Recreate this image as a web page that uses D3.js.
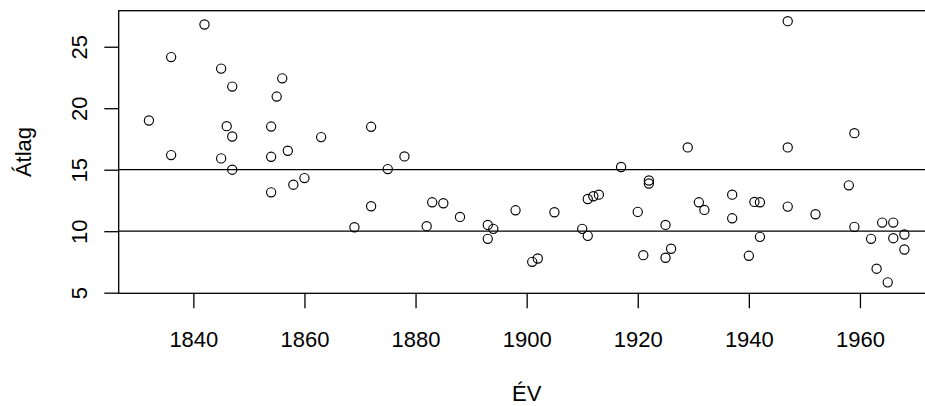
<!DOCTYPE html>
<html>
<head>
<meta charset="utf-8">
<script src="https://cdn.jsdelivr.net/npm/d3@7"></script>
<style>
  html, body { margin: 0; padding: 0; background: #fff; }
  svg { display: block; }
  text { font-family: "Liberation Sans", Arial, Helvetica, sans-serif; fill: #000; }
</style>
</head>
<body>
<svg id="chart" width="925" height="406"></svg>
<script>
// ---- data ----
const years = [1832, 1836, 1836, 1842, 1845, 1845, 1846, 1847, 1847, 1847,
  1854, 1854, 1854, 1855, 1856, 1857, 1858, 1860, 1863, 1869,
  1872, 1872, 1875, 1878, 1882, 1883, 1885, 1888, 1893, 1893,
  1894, 1898, 1901, 1902, 1905, 1910, 1911, 1911, 1912, 1913,
  1917, 1920, 1921, 1922, 1922, 1925, 1925, 1926, 1929, 1931,
  1932, 1937, 1937, 1940, 1941, 1942, 1942, 1947, 1947, 1947,
  1952, 1958, 1959, 1959, 1962, 1963, 1964, 1965, 1966, 1966,
  1968, 1968];
const values = [19.0, 24.16, 16.19, 26.81, 23.22, 15.92, 18.54, 21.76, 17.7, 15.0,
  18.51, 16.05, 13.16, 20.95, 22.43, 16.54, 13.78, 14.32, 17.65, 10.32,
  18.49, 12.03, 15.05, 16.08, 10.41, 12.35, 12.27, 11.16, 10.51, 9.38,
  10.19, 11.7, 7.51, 7.78, 11.54, 10.19, 9.62, 12.62, 12.84, 12.97,
  15.22, 11.57, 8.05, 14.12, 13.88, 10.51, 7.84, 8.57, 16.81, 12.35,
  11.73, 12.97, 11.05, 8.0, 12.38, 12.35, 9.54, 27.08, 16.81, 12.0,
  11.38, 13.73, 17.97, 10.35, 9.38, 6.95, 10.7, 5.84, 10.7, 9.43,
  9.73, 8.51];
const xTicks = [1840, 1860, 1880, 1900, 1920, 1940, 1960];
const yTicks = [5, 10, 15, 20, 25];
const refLines = [10, 15];
const xTitle = "ÉV";
const yTitle = "Átlag";

// ---- layout ----
const svg = d3.select("#chart");
const pLeft = 118.7, pRight = 934.6, pTop = 10.7, pBottom = 293.3;
const FS = 22;

const x = d3.scaleLinear().domain([1826.56, 1973.44]).range([pLeft, pRight]);
const y = d3.scaleLinear().domain([4.95, 27.93]).range([pBottom, pTop]);

// reference lines
svg.append("g").selectAll("line").data(refLines).join("line")
  .attr("x1", pLeft).attr("x2", pRight)
  .attr("y1", d => y(d)).attr("y2", d => y(d))
  .attr("stroke", "#000").attr("stroke-width", 1.3);

// points
svg.append("g").selectAll("circle").data(years.map((yr, i) => [yr, values[i]])).join("circle")
  .attr("cx", d => x(d[0])).attr("cy", d => y(d[1]))
  .attr("r", 4.6)
  .attr("fill", "none").attr("stroke", "#000").attr("stroke-width", 1.15);

// box
svg.append("rect")
  .attr("x", pLeft).attr("y", pTop)
  .attr("width", pRight - pLeft).attr("height", pBottom - pTop)
  .attr("fill", "none").attr("stroke", "#000").attr("stroke-width", 1.3);

// x axis
const xAxis = d3.axisBottom(x).tickValues(xTicks).tickSize(15).tickPadding(23)
  .tickFormat(d3.format("d"));
const gx = svg.append("g").attr("transform", `translate(0,${pBottom})`).call(xAxis);
gx.select(".domain").remove();
gx.selectAll(".tick line").attr("stroke", "#000").attr("stroke-width", 1.3);
gx.selectAll(".tick text").attr("font-size", FS).attr("font-family", null).attr("fill", "#000");

// y axis
const yAxis = d3.axisLeft(y).tickValues(yTicks).tickSize(14.4).tickFormat(d3.format("d"));
const gy = svg.append("g").attr("transform", `translate(${pLeft},0)`).call(yAxis);
gy.select(".domain").remove();
gy.selectAll(".tick line").attr("stroke", "#000").attr("stroke-width", 1.3);
gy.selectAll(".tick text")
  .attr("font-size", FS).attr("font-family", null).attr("fill", "#000")
  .attr("x", null).attr("dy", null)
  .attr("text-anchor", "middle")
  .attr("transform", `translate(${87 - pLeft},0) rotate(-90)`);

// titles
svg.append("text")
  .attr("x", (pLeft + pRight) / 2).attr("y", 401)
  .attr("text-anchor", "middle").attr("font-size", FS)
  .text(xTitle);
svg.append("text")
  .attr("transform", `translate(31,${(pTop + pBottom) / 2}) rotate(-90)`)
  .attr("text-anchor", "middle").attr("font-size", FS)
  .text(yTitle);
</script>
</body>
</html>
